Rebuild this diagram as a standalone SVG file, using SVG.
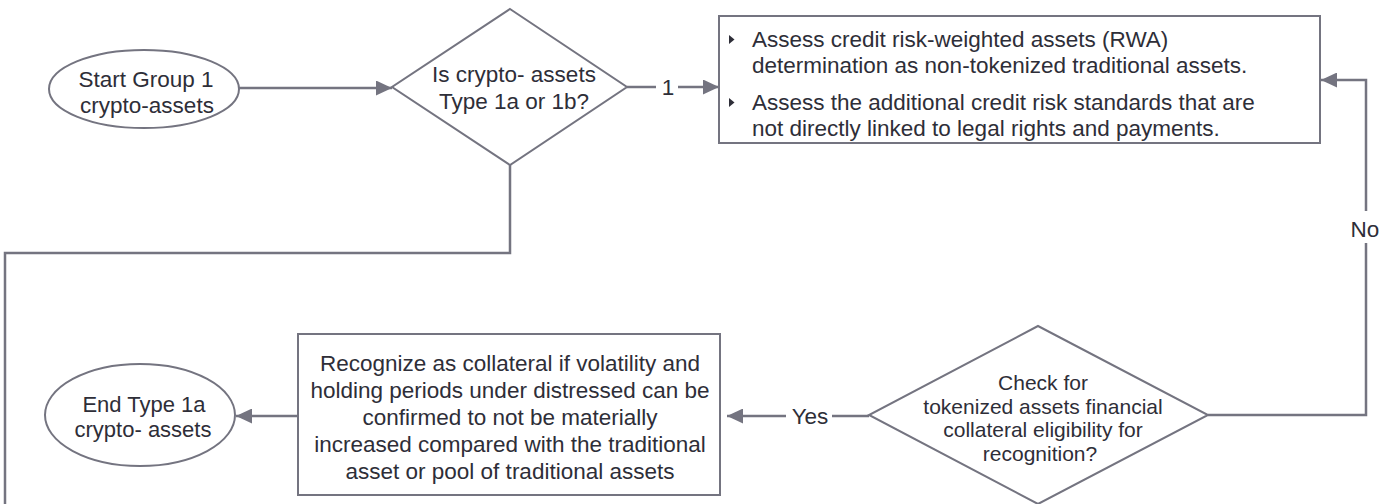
<svg xmlns="http://www.w3.org/2000/svg" width="1380" height="504" viewBox="0 0 1380 504">
<style>
.shape{fill:#ffffff;stroke:#747480;stroke-width:2}
.conn{fill:none;stroke:#747480;stroke-width:2.5}
.t{font-family:"Liberation Sans",Arial,sans-serif;font-size:22.5px;fill:#2e2e38}
.c{text-anchor:middle}
.s21{font-size:21px}
.s22{font-size:22px}
.bul{fill:#2e2e38}
</style>
<defs>
<marker id="arr" markerUnits="userSpaceOnUse" markerWidth="17" markerHeight="15" refX="16" refY="7.5" orient="auto">
<path d="M0,0 L16,7.5 L0,15 Z" fill="#747480"/>
</marker>
</defs>
<rect width="1380" height="504" fill="#ffffff"/>
<g id="connectors">
<line class="conn" x1="239" y1="88" x2="392" y2="88" marker-end="url(#arr)"/>
<line class="conn" x1="627" y1="87" x2="656" y2="87"/>
<line class="conn" x1="678" y1="87" x2="719" y2="87" marker-end="url(#arr)"/>
<text class="t c" x="668" y="95">1</text>
<polyline class="conn" points="510,165 510,253 5,253 5,504"/>
<polyline class="conn" points="1208,415 1366,415 1366,243"/>
<polyline class="conn" points="1366,211 1366,80 1321,80" marker-end="url(#arr)"/>
<text class="t c" x="1365" y="237">No</text>
<line class="conn" x1="869" y1="416" x2="832" y2="416"/>
<line class="conn" x1="786" y1="416" x2="727" y2="416" marker-end="url(#arr)"/>
<text class="t c" x="810" y="424">Yes</text>
<line class="conn" x1="298" y1="416" x2="236" y2="416" marker-end="url(#arr)"/>
</g>
<g id="start">
<ellipse class="shape" cx="144" cy="89" rx="95" ry="39"/>
<text class="t c" x="146" y="87">Start Group 1</text>
<text class="t c" x="147" y="113">crypto-assets</text>
</g>
<g id="decision1">
<polygon class="shape" points="510,9 627,87 510,165 392,87"/>
<text class="t c" x="514" y="82">Is crypto- assets</text>
<text class="t c" x="514" y="109">Type 1a or 1b?</text>
</g>
<g id="assess">
<rect class="shape" x="719" y="16" width="601" height="127"/>
<polygon class="bul" points="729,35 734.5,39.5 729,44"/>
<polygon class="bul" points="729,98 734.5,102.5 729,107"/>
<text class="t" x="752" y="47">Assess credit risk-weighted assets (RWA)</text>
<text class="t" x="752" y="73">determination as non-tokenized traditional assets.</text>
<text class="t" x="752" y="110">Assess the additional credit risk standards that are</text>
<text class="t" x="752" y="136">not directly linked to legal rights and payments.</text>
</g>
<g id="decision2">
<polygon class="shape" points="1038,326 1208,415 1038,504 869,415"/>
<text class="t c s21" x="1043" y="390">Check for</text>
<text class="t c s21" x="1043" y="413.5">tokenized assets financial</text>
<text class="t c s21" x="1043" y="437">collateral eligibility for</text>
<text class="t c s21" x="1040" y="460.5">recognition?</text>
</g>
<g id="collateral">
<rect class="shape" x="298" y="334" width="422" height="161"/>
<text class="t c" x="510" y="371">Recognize as collateral if volatility and</text>
<text class="t c" x="510" y="398">holding periods under distressed can be</text>
<text class="t c" x="510" y="425">confirmed to not be materially</text>
<text class="t c" x="510" y="452">increased compared with the traditional</text>
<text class="t c" x="510" y="479">asset or pool of traditional assets</text>
</g>
<g id="end">
<ellipse class="shape" cx="140" cy="415" rx="95" ry="51"/>
<text class="t c s22" x="144" y="412">End Type 1a</text>
<text class="t c s22" x="143" y="437">crypto- assets</text>
</g>
</svg>
